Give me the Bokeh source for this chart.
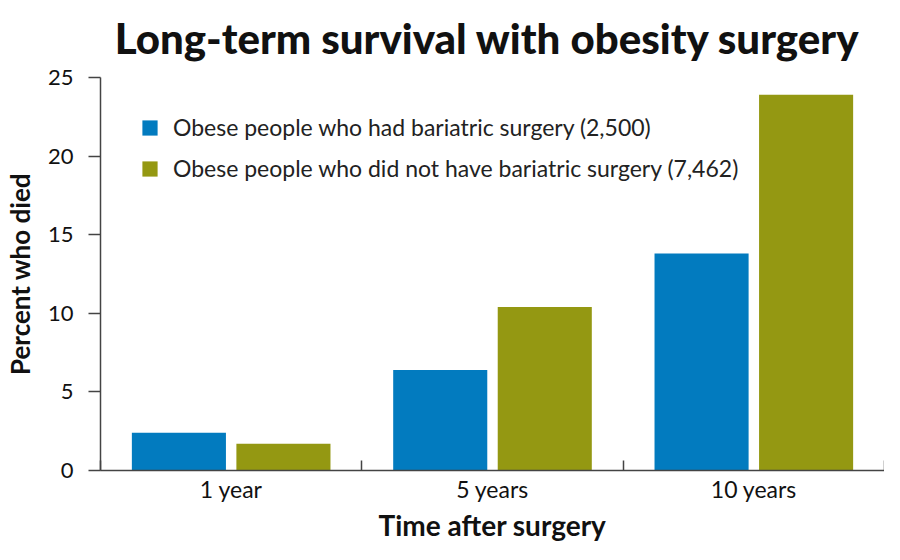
import numpy as np
from bokeh.plotting import figure
from bokeh.models import ColumnDataSource, FixedTicker, Legend, LegendItem
from bokeh.embed import file_html
from bokeh.resources import INLINE

# ---- data ----
categories = ["1 year", "5 years", "10 years"]
series_names = [
    "Obese people who had bariatric surgery (2,500)",
    "Obese people who did not have bariatric surgery (7,462)",
]
surgery = [2.4, 6.4, 13.8]
no_surgery = [1.7, 10.4, 23.9]
y_ticks = [0, 5, 10, 15, 20, 25]
colors = ["#027BBF", "#949812"]
title_text = "Long-term survival with  obesity surgery"
x_label = "Time after surgery"
y_label = "Percent who died"

centers = np.arange(len(categories)) + 0.5
bounds = list(np.arange(len(categories) + 1).astype(float))

p = figure(
    width=884, height=544,
    x_range=(0, len(categories)), y_range=(0, 25),
    output_backend="svg", toolbar_location=None,
    min_border_left=99, min_border_right=0,
    min_border_top=75, min_border_bottom=40,
    title=title_text,
)
p.background_fill_color = "white"
p.border_fill_color = "white"
p.outline_line_color = None
p.grid.grid_line_color = None

p.title.text_font = "Lato Black, Lato"
p.title.text_font_style = "bold"
p.title.text_font_size = "42px"
p.title.align = "center"
p.title.vertical_align = "top"
p.title.text_color = "#111111"
p.title.standoff = 25

src1 = ColumnDataSource(dict(x=centers - 0.2, top=surgery))
src2 = ColumnDataSource(dict(x=centers + 0.2, top=no_surgery))
r1 = p.vbar(x="x", top="top", width=0.36, bottom=0, source=src1,
            fill_color=colors[0], line_color=None)
r2 = p.vbar(x="x", top="top", width=0.36, bottom=0, source=src2,
            fill_color=colors[1], line_color=None)

# x axis
xa = p.xaxis[0]
xa.ticker = FixedTicker(ticks=list(centers), minor_ticks=bounds)
xa.major_label_overrides = {float(c): lab for c, lab in zip(centers, categories)}
xa.major_tick_in = 0
xa.major_tick_out = 0
xa.minor_tick_in = 10
xa.minor_tick_out = 0
xa.minor_tick_line_color = "#444444"
xa.axis_line_color = "#444444"
xa.axis_line_width = 1.5
xa.minor_tick_line_width = 1.5
xa.major_label_text_font = "Lato"
xa.major_label_text_font_size = "23px"
xa.major_label_text_color = "#111111"
xa.major_label_standoff = 4
xa.axis_label = x_label
xa.axis_label_text_font = "Lato"
xa.axis_label_text_font_style = "bold"
xa.axis_label_text_font_size = "28px"
xa.axis_label_text_color = "#111111"
xa.axis_label_standoff = 2

# y axis
ya = p.yaxis[0]
ya.ticker = FixedTicker(ticks=y_ticks, minor_ticks=[])
ya.major_tick_in = 0
ya.major_tick_out = 12
ya.major_tick_line_color = "#444444"
ya.major_tick_line_width = 1.5
ya.axis_line_color = "#444444"
ya.axis_line_width = 1.5
ya.major_label_text_font = "Lato"
ya.major_label_text_font_size = "22px"
ya.major_label_text_color = "#111111"
ya.major_label_standoff = 15
ya.axis_label = y_label
ya.axis_label_text_font = "Lato"
ya.axis_label_text_font_style = "bold"
ya.axis_label_text_font_size = "26px"
ya.axis_label_text_color = "#111111"
ya.axis_label_standoff = 9

legend = Legend(
    items=[LegendItem(label=series_names[0], renderers=[r1]),
           LegendItem(label=series_names[1], renderers=[r2])],
    location=(40, 288),
)
legend.margin = 0
legend.padding = 0
legend.border_line_color = None
legend.background_fill_alpha = 0
legend.glyph_width = 19
legend.glyph_height = 19
legend.label_height = 19
legend.spacing = 13
legend.label_standoff = 14
legend.label_text_font = "Lato"
legend.label_text_font_size = "23px"
legend.label_text_color = "#222222"
p.add_layout(legend, "center")

open("out.html", "w").write(file_html(p, INLINE))
